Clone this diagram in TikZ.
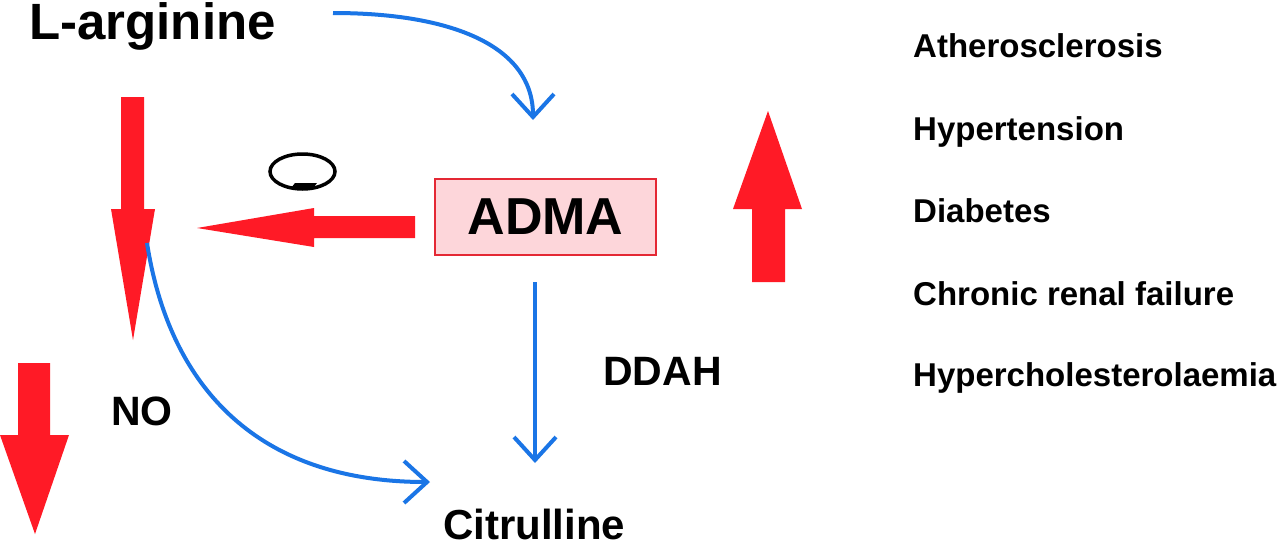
\documentclass[tikz,border=0pt]{standalone}
\usepackage{fontspec}
\setmainfont{Liberation Sans}
\usetikzlibrary{arrows.meta,calc,shapes.geometric}
\definecolor{ared}{RGB}{255,26,38}
\definecolor{ablue}{RGB}{26,117,230}
\definecolor{apink}{RGB}{253,214,218}
\definecolor{aborder}{RGB}{228,40,52}
\tikzset{
  conn/.style={ablue,line width=4pt,-{Straight Barb[length=23pt,width=42pt]}},
  lbl/.style={inner sep=0pt,anchor=base west,font=\bfseries},
  redarrow/.style={fill=ared,draw=none}
}
\begin{document}
\begin{tikzpicture}[x=1pt,y=-1pt]
\useasboundingbox (0,0) rectangle (1280,549);
\fill[white] (0,0) rectangle (1280,549);

% texts
\node[lbl,font=\bfseries\fontsize{51}{60}\selectfont] (larg) at (29,39) {L-arginine};
\node[lbl,font=\bfseries\fontsize{41}{48}\selectfont] (no) at (111,425) {NO};
\node[lbl,font=\bfseries\fontsize{41}{48}\selectfont] (ddah) at (603,385) {DDAH};
\node[lbl,font=\bfseries\fontsize{42}{48}\selectfont] (cit) at (443,539) {Citrulline};

\node[draw=aborder,fill=apink,line width=2.2pt,minimum width=221pt,minimum height=76pt,inner sep=0pt,
      font=\bfseries\fontsize{52}{60}\selectfont] (adma) at (545.5,217) {ADMA};

\node[lbl,font=\bfseries\fontsize{33}{40}\selectfont] (d1) at (913,57) {Atherosclerosis};
\node[lbl,font=\bfseries\fontsize{33}{40}\selectfont] (d2) at (913,140) {Hypertension};
\node[lbl,font=\bfseries\fontsize{33}{40}\selectfont] (d3) at (913,222) {Diabetes};
\node[lbl,font=\bfseries\fontsize{33}{40}\selectfont] (d4) at (913,305) {Chronic renal failure};
\node[lbl,font=\bfseries\fontsize{33}{40}\selectfont] (d5) at (913,386) {Hypercholesterolaemia};

% minus sign in ellipse
\node[draw=black,line width=3.5pt,ellipse,minimum width=65pt,minimum height=35pt,inner sep=0pt] (minus) at (302.5,171.5) {};
\fill[black] (291,188) -- (295,183) -- (317,183) -- (313,188) -- cycle;

% red arrows
\fill[redarrow] (121,97) -- (144,97) -- (144,209) -- (155,209) -- (133,340) -- (111,209) -- (121,209) -- cycle;
\fill[redarrow] (415,216) -- (415,238) -- (314,238) -- (314,247) -- (197,228) -- (314,208) -- (314,216) -- cycle;
\fill[redarrow] (18,363) -- (50,363) -- (50,435) -- (69,435) -- (35,534) -- (0,435) -- (18,435) -- cycle;
\fill[redarrow] (752,282) -- (785,282) -- (785,209) -- (802,209) -- (768,111) -- (733,209) -- (752,209) -- cycle;

% blue connectors
\coordinate (c1) at (333,13);
\coordinate (c2) at (533,120);
\draw[conn] (c1) .. controls (450,13) and (533,45) .. (c2);

\coordinate (c3) at (535,282);
\coordinate (c4) at (535,463);
\draw[conn] (c3) -- (c4);

\coordinate (c5) at (147,243);
\coordinate (c6) at (430,482);
\draw[conn] (c5) .. controls (170,390) and (260,482) .. (c6);
\end{tikzpicture}
\end{document}
